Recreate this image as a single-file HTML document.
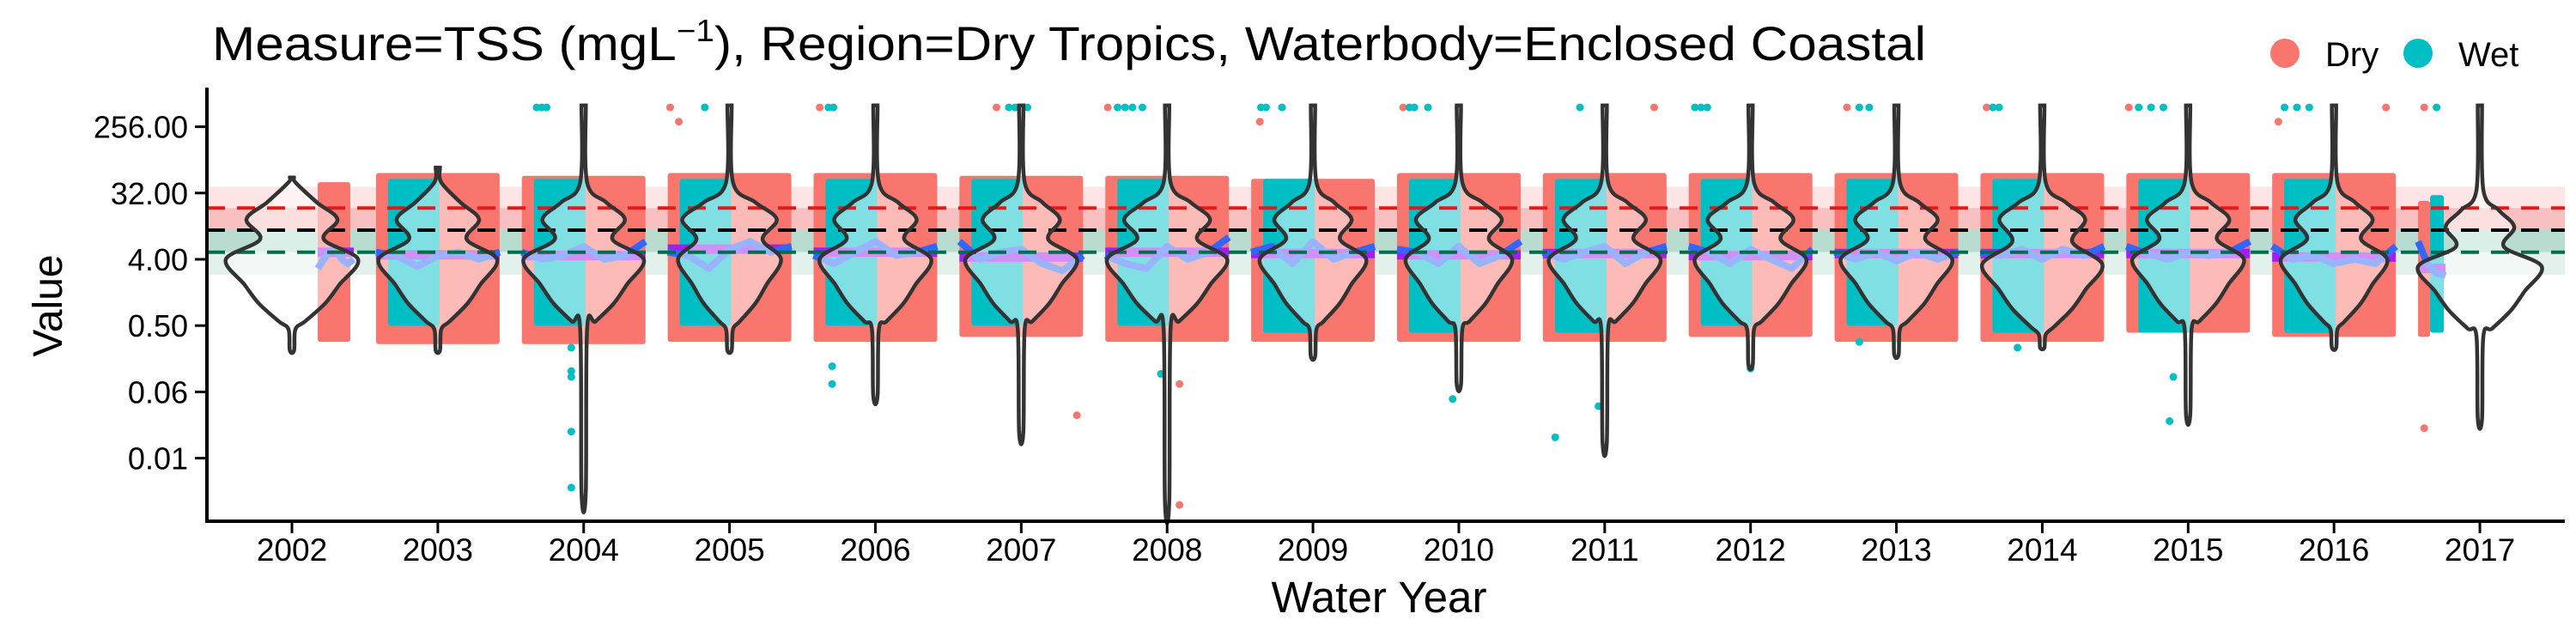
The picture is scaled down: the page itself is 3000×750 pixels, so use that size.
<!DOCTYPE html>
<html><head><meta charset="utf-8"><style>
html,body{margin:0;padding:0;background:#fff;}
svg{display:block;font-family:"Liberation Sans",sans-serif;}
</style></head><body>
<svg id="chart" width="3000" height="750" viewBox="0 0 3000 750" xmlns="http://www.w3.org/2000/svg">
<text x="247" y="70" font-size="56" fill="#000" textLength="1996" lengthAdjust="spacingAndGlyphs">Measure=TSS (mgL<tspan font-size="36" dy="-22">−1</tspan><tspan dy="22">), Region=Dry Tropics, Waterbody=Enclosed Coastal</tspan></text>
<g>
<circle cx="2661" cy="62" r="17" fill="#F8766D"/>
<text x="2708" y="77" font-size="40">Dry</text>
<circle cx="2816" cy="62" r="17" fill="#00BFC4"/>
<text x="2863" y="77" font-size="40">Wet</text>
</g>
<text transform="translate(72,356) rotate(-90)" text-anchor="middle" font-size="48">Value</text>
<text x="1606" y="713" text-anchor="middle" font-size="51" textLength="251" lengthAdjust="spacingAndGlyphs">Water Year</text>
<g id="plot"></g>
</svg>
<script>
const years = [2002,2003,2004,2005,2006,2007,2008,2009,2010,2011,2012,2013,2014,2015,2016,2017];
const yTicks = [256, 32, 4, 0.5, 0.0625, 0.0078125];
const yTickLabels = ["256.00","32.00","4.00","0.50","0.06","0.01"];
const vMax = [52,71,500,500,500,500,500,500,500,500,500,500,500,500,500,500];
const vMin = [0.23,0.23,0.0027,0.23,0.055,0.018,0.002,0.19,0.079,0.013,0.146,0.2,0.25,0.031,0.25,0.027];
const upperLobeV = [14,14,14,14,14,14,14,14,14,14,14,14,14,14,14,11];
const upperLobeW = [53,48,48,55,48,45,50,45,50,48,50,48,50,48,45,40];
const lowerLobeV = [4,4,4,4,4,4,4,4,4,4,4,4,3.4,4,4,3.2];
const lowerLobeW = [77,69,70,60,65,65,70,62,62,65,65,65,70,65,62,72];
const dryHi = [45,60,55,60,60,55,55,50,60,60,60,60,60,60,60,25];
const dryLo = [0.3,0.28,0.28,0.3,0.3,0.35,0.3,0.3,0.3,0.3,0.35,0.3,0.3,0.4,0.35,0.35];
const wetHi = [0,50,50,50,50,50,50,50,50,50,50,50,50,50,50,30];
const wetLo = [0,0.5,0.5,0.5,0.5,0.5,0.5,0.4,0.4,0.4,0.5,0.5,0.4,0.4,0.4,0.4];
const trendV = [5,4.6,4.5,5.5,5,4.3,5,4.8,4.6,4.8,4.5,4.8,4.8,4.8,4.3,3.0];
const smoothV = [[3,4,5,5.5,4,3.5,4],[5,4.5,3.2,4.5,5,4,5],[5,4,4.5,6,4,4.5,7],[5,4.5,3,5.5,7,5,6],[4.5,3.5,5,7,4.5,5,6],[7,4,5,5.5,3.5,2.8,4.5],[4.5,3.5,3,6,4,5,8],[5,6,3.5,7,4,5,6],[5.5,5,3.5,6,3.5,4.5,7],[5,4,5,6,3.5,5,6],[6,5,3.5,5.5,4,3,5.5],[5,4,5,3.8,5,4,5],[5,4.5,5.5,4,5.5,4.5,6],[6,4.8,4,5,4.5,5,7],[6,4,4.5,3.5,4,3.5,6],[7,5,3.5,3,2.6,2.5,2.4]];
const thrRed = 20, thrBlack = 10, thrGreen = 5, bandTop = 39, bandBot = 2.46;
// outliers: [yearIndex, value, season(0 dry,1 wet), fraction of year (0..1)]
const outliers = [
[2,470,1,0.12],[2,470,1,0.16],[2,470,1,0.2],[2,0.25,1,0.4],[2,0.12,1,0.4],[2,0.1,1,0.4],[2,0.018,1,0.4],[2,0.0031,1,0.4],
[3,470,0,0.02],[3,470,1,0.3],[3,300,0,0.09],
[4,470,0,0.05],[4,470,1,0.12],[4,470,1,0.16],[4,0.14,1,0.15],[4,0.08,1,0.15],
[5,470,0,0.3],[5,470,1,0.4],[5,470,1,0.45],[5,470,1,0.55],[5,0.03,0,0.95],
[6,470,0,0.02],[6,470,1,0.1],[6,470,1,0.16],[6,470,1,0.22],[6,470,1,0.3],[6,0.11,1,0.45],[6,0.0018,0,0.6],[6,0.08,0,0.6],
[7,470,1,0.08],[7,470,1,0.12],[7,470,1,0.25],[7,300,0,0.07],
[8,470,0,0.05],[8,470,1,0.1],[8,470,1,0.14],[8,470,1,0.25],[8,0.05,1,0.45],
[9,470,1,0.3],[9,470,0,0.9],[9,0.015,1,0.1],[9,0.04,1,0.45],
[10,470,1,0.05],[10,470,1,0.1],[10,470,1,0.15],[10,0.13,1,0.5],
[11,470,0,0.1],[11,470,1,0.2],[11,470,1,0.28],[11,0.3,1,0.2],
[12,470,0,0.05],[12,470,1,0.1],[12,470,1,0.15],[12,0.25,1,0.3],
[13,470,0,0.02],[13,470,1,0.1],[13,470,1,0.2],[13,470,1,0.3],[13,0.1,1,0.38],[13,0.025,1,0.35],
[14,470,1,0.1],[14,470,1,0.2],[14,470,1,0.3],[14,300,0,0.05],[14,470,0,0.92],
[15,470,0,0.05],[15,470,1,0.15],[15,0.02,0,0.05]
];

const NS="http://www.w3.org/2000/svg";
const plot=document.getElementById('plot');
const X0=340, DX=169.87, Y4=302, PER=25.73, AXL=241, AXR=2987, AXB=607, AXT=102;
function xs(i){return X0+DX*i;}
function ys(v){return Y4-PER*Math.log2(v/4);}
function mk(tag,attrs,parent){const e=document.createElementNS(NS,tag);for(const k in attrs)e.setAttribute(k,attrs[k]);(parent||plot).appendChild(e);return e;}

let g=mk('g',{});


mk('rect',{x:AXL,y:ys(bandTop),width:AXR-AXL,height:ys(thrRed)-ys(bandTop),fill:'#fde5e5'},g);
mk('rect',{x:AXL,y:ys(thrRed),width:AXR-AXL,height:ys(thrBlack)-ys(thrRed),fill:'#f8c0c0'},g);
mk('rect',{x:AXL,y:ys(thrBlack),width:AXR-AXL,height:ys(thrGreen)-ys(thrBlack),fill:'#b8dcd0'},g);
mk('rect',{x:AXL,y:ys(thrGreen),width:AXR-AXL,height:ys(bandBot)-ys(thrGreen),fill:'#e3f1ec'},g);

for(let i=0;i<years.length;i++){
  const c=xs(i);
  const pg=mk('g',{});
  
  
  let dx0=c-72,dx1=c+72,wx0=c-58,wx1=c+2;
  if(wetHi[i]===0){dx0=c+30;dx1=c+68;}
  if(i===years.length-1){dx0=c-72;dx1=c-58;wx0=c-58;wx1=c-42;}
  mk('rect',{x:dx0,y:ys(dryHi[i]),width:dx1-dx0,height:ys(dryLo[i])-ys(dryHi[i]),fill:'#F8766D',rx:3},pg);
  if(wetHi[i]>0) mk('rect',{x:wx0,y:ys(wetHi[i]),width:wx1-wx0,height:ys(wetLo[i])-ys(wetHi[i]),fill:'#00BFC4',rx:3},pg);
}
for(const o of outliers){
  const e=mk('circle',{cx:xs(o[0])-72+144*o[3],cy:ys(o[1]),r:4.5,fill:o[2]?'#00BFC4':'#F8766D'});
  
  
}
for(let i=0;i<years.length;i++){
  const c=xs(i);
  let a=c-72,b=c+72; if(i===0)a=c+30; if(i===years.length-1){a=c-72;b=c-40;}
  const t=mk('line',{x1:a,x2:b,y1:ys(trendV[i]),y2:ys(trendV[i]),stroke:'#a020f0','stroke-width':11});
  
  
  const s=smoothV[i]; let d='';
  for(let k=0;k<s.length;k++){const x=a+(b-a)*k/(s.length-1);d+=(k?' L':'M')+x.toFixed(1)+','+ys(s[k]).toFixed(1);}
  const p=mk('path',{d:d,fill:'none',stroke:'#3366ff','stroke-width':8,'stroke-linejoin':'round'});
  
  
}
function violinPath(i){
  const c=xs(i);
  const prof=[[ys(vMax[i]),2.5],[ys(upperLobeV[i]*3.2),4],[ys(upperLobeV[i]*1.7),upperLobeW[i]*0.55],[ys(upperLobeV[i]),upperLobeW[i]],
    [ys(Math.sqrt(upperLobeV[i]*lowerLobeV[i])),upperLobeW[i]*0.7],[ys(lowerLobeV[i]),lowerLobeW[i]],[ys(lowerLobeV[i]/2.2),lowerLobeW[i]*0.72],
    [ys(lowerLobeV[i]/4),lowerLobeW[i]*0.5],[ys(lowerLobeV[i]/7),lowerLobeW[i]*0.2],[ys(lowerLobeV[i]/9),4],[ys(vMin[i]),2.5]];
  prof.sort((p,q)=>p[0]-q[0]);
  const R=prof.map(p=>[c+p[1],p[0]]), L=prof.slice().reverse().map(p=>[c-p[1],p[0]]);
  const pts=R.concat(L);
  let d='M'+pts[0][0]+','+pts[0][1];
  for(let k=0;k<pts.length-1;k++){
    const p0=pts[Math.max(k-1,0)],p1=pts[k],p2=pts[k+1],p3=pts[Math.min(k+2,pts.length-1)];
    const c1=[p1[0]+(p2[0]-p0[0])/6,p1[1]+(p2[1]-p0[1])/6],c2=[p2[0]-(p3[0]-p1[0])/6,p2[1]-(p3[1]-p1[1])/6];
    d+=' C'+c1[0].toFixed(1)+','+c1[1].toFixed(1)+' '+c2[0].toFixed(1)+','+c2[1].toFixed(1)+' '+p2[0].toFixed(1)+','+p2[1].toFixed(1);
  }
  return d+'Z';
}
const vp=years.map((y,i)=>violinPath(i));
for(let i=0;i<years.length;i++){
  const f=mk('path',{d:vp[i],fill:'#fff','fill-opacity':0.5,stroke:'none'});
  
  
}
[[thrRed,'#e31a1c','red'],[thrBlack,'#000','black'],[thrGreen,'#006d4f','green']].forEach(t=>{
  const l=mk('line',{x1:AXL,x2:AXR,y1:ys(t[0]),y2:ys(t[0]),stroke:t[1],'stroke-width':4,'stroke-dasharray':'21 14'});
  
  
});
for(let i=0;i<years.length;i++){
  const o=mk('path',{d:vp[i],fill:'none',stroke:'#333','stroke-width':4.5});
  
  
}
const ax=mk('g',{});


mk('line',{x1:AXL,x2:AXL,y1:AXT,y2:AXB+2,stroke:'#000','stroke-width':4},ax);
mk('line',{x1:AXL-2,x2:AXR,y1:AXB,y2:AXB,stroke:'#000','stroke-width':4},ax);
yTicks.forEach((v,k)=>{
  mk('line',{x1:AXL-14,x2:AXL,y1:ys(v),y2:ys(v),stroke:'#000','stroke-width':3},ax);
  const t=mk('text',{x:AXL-22,y:ys(v)+13,'text-anchor':'end','font-size':36},ax);
  t.textContent=yTickLabels[k];
  
  
});
years.forEach((y,i)=>{
  mk('line',{x1:xs(i),x2:xs(i),y1:AXB,y2:AXB+14,stroke:'#000','stroke-width':3},ax);
  const t=mk('text',{x:xs(i),y:653,'text-anchor':'middle','font-size':37},ax);
  t.textContent=y;
  
  
});
</script>
</body></html>
